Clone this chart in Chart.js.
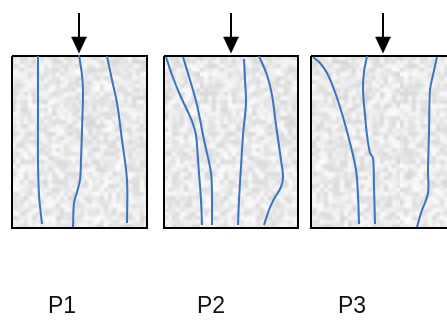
<!DOCTYPE html>
<html>
<head>
<meta charset="utf-8">
<script src="https://cdn.jsdelivr.net/npm/chart.js@4/dist/chart.umd.min.js"></script>
<style>
  html, body { margin: 0; padding: 0; background: #ffffff; }
  #wrap { width: 447px; height: 320px; }
</style>
</head>
<body>
<div id="wrap"><canvas id="chart"></canvas></div>
<script>
// panel labels and where they sit (x in picture units)
const panelLabels = ['P1', 'P2', 'P3'];
const labelX = [62, 211, 352];
const labelY = 313;

// specimen boxes: [left, top, right, bottom]
const boxes = [
  [12, 56, 147, 228],
  [164, 56, 298, 228],
  [311, 56, 452, 228]
];

// load arrows: x position, shaft top, head start, tip
const arrowX = [79, 231, 383];
const arrowTop = 13;
const arrowHead = 37;
const arrowTip = 53;
const arrowHalfWidth = 7.5;

// crack traces, [x, y]
const p1Left = [[38,56],[38,110],[38,160],[39,195],[42,224]];
const p1Mid = [[79,55],[82,75],[83,92],[82,130],[81,160],[80,180],[77,192],[74,203],[73,227]];
const p1Right = [[107,56],[112,80],[117,103],[122,140],[127,180],[127,223]];

const p2A = [[166,57],[172,75],[180,95],[188,112],[193,124],[196,135],[198,160],[201,200],[202,225]];
const p2B = [[183,57],[190,80],[197,105],[204,140],[211,173],[212,200],[212,225]];
const p2C = [[244,59],[245,80],[246,103],[243,135],[241,167],[239,200],[238,225]];
const p2D = [[259,56],[267,75],[272,95],[276,125],[281,160],[283,177],[281,187],[274,199],[269,210],[264,225]];

const p3A = [[313,57],[320,63],[327,73],[335,92],[343,117],[350,143],[356,170],[358,195],[359,224]];
const p3B = [[367,56],[364,72],[363,90],[365,115],[367,135],[370,153],[373,158],[374,187],[375,224]];
const p3C = [[437,57],[433,75],[430,90],[429,133],[428,170],[428,193],[421,213],[417,227]];

const cracks = [p1Left, p1Mid, p1Right, p2A, p2B, p2C, p2D, p3A, p3B, p3C];

const crackColor = '#3d72c0';

// grey speckle texture for the specimen fill
function makeTexture() {
  const small = document.createElement('canvas');
  small.width = 50; small.height = 60;
  const sctx = small.getContext('2d');
  const img = sctx.createImageData(50, 60);
  let seed = 12345;
  const next = () => { seed = (seed * 1103515245 + 12345) & 0x7fffffff; return seed / 0x7fffffff; };
  for (let i = 0; i < 50 * 60; i++) {
    const v = Math.round(214 + next() * 40);
    img.data[i * 4] = v; img.data[i * 4 + 1] = v; img.data[i * 4 + 2] = v; img.data[i * 4 + 3] = 255;
  }
  sctx.putImageData(img, 0, 0);
  const big = document.createElement('canvas');
  big.width = 200; big.height = 240;
  const bctx = big.getContext('2d');
  bctx.imageSmoothingEnabled = true;
  bctx.drawImage(small, 0, 0, 200, 240);
  return bctx.createPattern(big, 'repeat');
}

const texture = makeTexture();

const datasets = [];

// arrows: shaft + filled downward head
arrowX.forEach(x => {
  datasets.push({
    data: [{x: x, y: arrowTop}, {x: x, y: arrowHead + 2}],
    showLine: true, borderColor: '#000', borderWidth: 2, pointRadius: 0, tension: 0, order: 0
  });
  datasets.push({
    data: [{x: x - arrowHalfWidth, y: arrowHead}, {x: x + arrowHalfWidth, y: arrowHead}, {x: x, y: arrowTip}, {x: x - arrowHalfWidth, y: arrowHead}],
    showLine: true, borderColor: '#000', borderWidth: 0.5, pointRadius: 0, tension: 0,
    fill: 'shape', backgroundColor: '#000', order: 0
  });
});

cracks.forEach(c => {
  datasets.push({
    data: c.map(p => ({x: p[0], y: p[1]})),
    showLine: true, borderColor: crackColor, borderWidth: 2, pointRadius: 0, tension: 0.35, order: 1
  });
});

boxes.forEach(b => {
  datasets.push({
    data: [{x: b[0], y: b[1]}, {x: b[2], y: b[1]}, {x: b[2], y: b[3]}, {x: b[0], y: b[3]}, {x: b[0], y: b[1]}],
    showLine: true, borderColor: '#000', borderWidth: 2, pointRadius: 0, tension: 0,
    fill: 'shape', backgroundColor: texture, order: 2
  });
});

const labelPlugin = {
  id: 'panelLabels',
  afterDraw(chart) {
    const ctx = chart.ctx;
    const xs = chart.scales.x, ys = chart.scales.y;
    ctx.save();
    ctx.fillStyle = '#111';
    ctx.font = '23px "Liberation Sans", Arial, sans-serif';
    ctx.textAlign = 'center';
    ctx.textBaseline = 'alphabetic';
    panelLabels.forEach((t, i) => {
      ctx.fillText(t, xs.getPixelForValue(labelX[i]), ys.getPixelForValue(labelY));
    });
    ctx.restore();
  }
};

new Chart(document.getElementById('chart'), {
  type: 'scatter',
  data: { datasets },
  options: {
    responsive: true,
    maintainAspectRatio: false,
    animation: false,
    layout: { padding: 0, autoPadding: false },
    plugins: { legend: { display: false }, tooltip: { enabled: false } },
    scales: {
      x: { type: 'linear', min: 0, max: 447, display: false },
      y: { type: 'linear', min: 0, max: 320, reverse: true, display: false }
    }
  },
  plugins: [labelPlugin]
});
</script>
</body>
</html>
